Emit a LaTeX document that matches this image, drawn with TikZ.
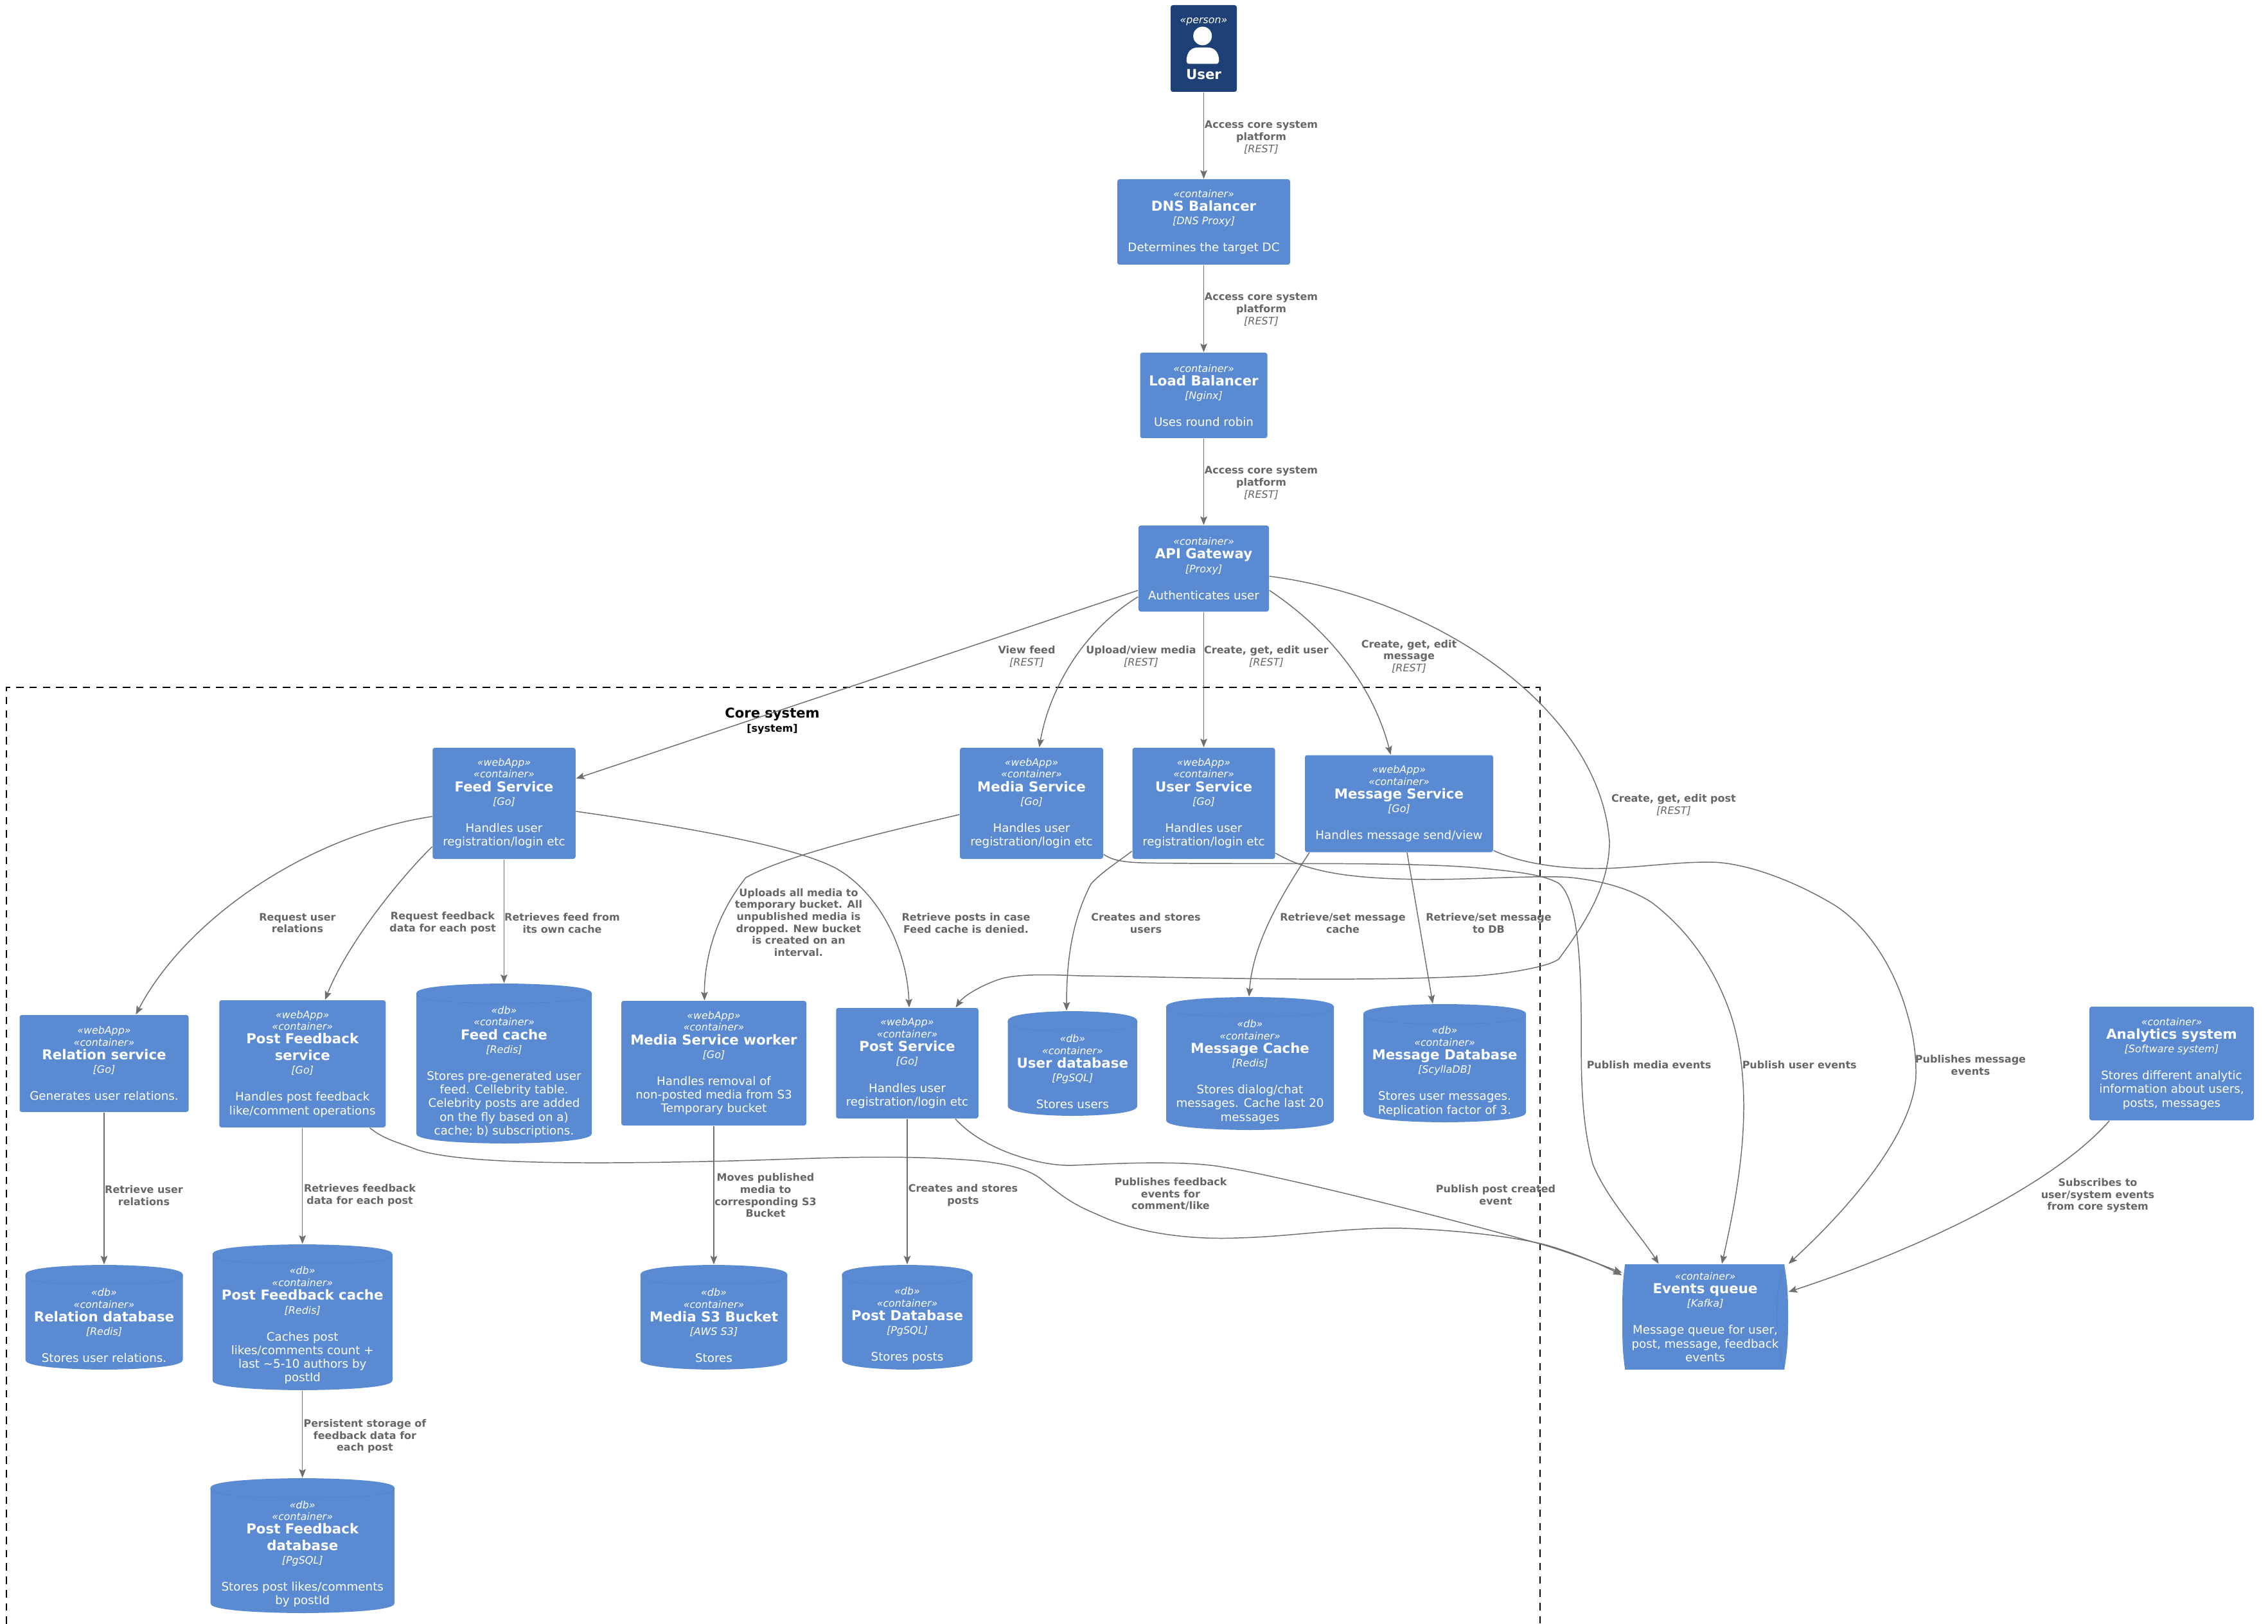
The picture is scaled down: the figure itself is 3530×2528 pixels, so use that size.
\documentclass[tikz,border=0pt]{standalone}
\usepackage{xcolor}
\usepackage{fontspec}
\setmainfont{DejaVu Sans}
\usepackage{tikz}
\usetikzlibrary{arrows, arrows.meta}
\definecolor{boxblue}{HTML}{5A8AD1}
\definecolor{boxline}{HTML}{5483CB}
\definecolor{personblue}{HTML}{1F4077}
\definecolor{relgray}{HTML}{6E6E6E}
\definecolor{labgray}{HTML}{666666}
\newcommand{\tagline}[1]{{\fontsize{4.5}{5}\selectfont\itshape «#1»}}
\newcommand{\titleline}[1]{{\fontsize{6.06}{7}\selectfont\bfseries #1}}
\newcommand{\techline}[1]{{\fontsize{4.55}{5}\selectfont\itshape [#1]}}
\newcommand{\reltech}[1]{{\mdseries\itshape [#1]}}
\newcommand{\dbtop}{\rule{0pt}{10.7pt}}
\tikzset{wh/.style 2 args={minimum width=#1*0.01cm, minimum height=#2*0.01cm}}

\begin{document}
\begin{tikzpicture}[x=0.01cm,y=0.01cm]
\tikzstyle{boxtext}=[inner sep=0pt, text=white, align=center, font=\fontsize{5.2}{6.05}\selectfont]
\tikzstyle{svc}=[boxtext, rectangle, fill=boxblue, rounded corners=1pt]
\tikzstyle{person}=[boxtext, rectangle, fill=personblue, rounded corners=1pt]
\tikzstyle{dbbox}=[boxtext, rectangle, path picture={
   \fill[boxblue] ([yshift=-4.27pt]path picture bounding box.north west)
      .. controls +(0,15) and +(0,0) .. (path picture bounding box.north)
      .. controls +(0,0) and +(0,15) .. ([yshift=-4.27pt]path picture bounding box.north east)
      -- ([yshift=4.27pt]path picture bounding box.south east)
      .. controls +(0,-15) and +(0,0) .. (path picture bounding box.south)
      .. controls +(0,0) and +(0,-15) .. ([yshift=4.27pt]path picture bounding box.south west) -- cycle;
   \draw[boxline, line width=.25pt] ([yshift=-4.27pt]path picture bounding box.north west)
      .. controls +(0,-15) and +(-60,0) .. ([yshift=-8.54pt]path picture bounding box.north)
      .. controls +(60,0) and +(0,-15) .. ([yshift=-4.27pt]path picture bounding box.north east);}]
\tikzstyle{queuebox}=[boxtext, rectangle, path picture={
   \fill[boxblue] ([xshift=1.2pt]path picture bounding box.north west)
      -- ([xshift=-1.7pt]path picture bounding box.north east)
      .. controls +(5,-30) and +(0,40) .. (path picture bounding box.east)
      .. controls +(0,-40) and +(5,30) .. ([xshift=-1.7pt]path picture bounding box.south east)
      -- ([xshift=1.2pt]path picture bounding box.south west)
      .. controls +(-4,30) and +(0,-40) .. (path picture bounding box.west)
      .. controls +(0,40) and +(-4,-30) .. cycle;
   \draw[boxline, line width=.25pt] ([xshift=-1.7pt]path picture bounding box.north east)
      .. controls +(-8,-30) and +(0,40) .. ([xshift=-5pt]path picture bounding box.east)
      .. controls +(0,-40) and +(-8,30) .. ([xshift=-1.7pt]path picture bounding box.south east);}]
\tikzstyle{lab}=[inner sep=0pt, yshift=-.5pt, text=labgray, align=center, font=\fontsize{4.55}{5.3}\selectfont\bfseries]
\tikzstyle{rel}=[draw=relgray, line width=.42pt, -{Stealth[length=3.8pt,width=3pt,inset=.7pt]}]

\useasboundingbox (0,0) rectangle (3530,-2528);

\coordinate (bl) at (10,-2528);
\coordinate (tl) at (10,-1070);
\coordinate (tr) at (2397,-1070);
\coordinate (br) at (2397,-2528);
\draw[line width=.45pt, dash pattern=on 3.3pt off 2.6pt] (bl)--(tl)--(tr)--(br);
\node[inner sep=0pt, align=center, font=\fontsize{4.55}{6.3}\selectfont\bfseries] (coretitle) at (1202,-1122) {{\fontsize{6}{7}\selectfont Core system}\\{[system]}};

\node[person, wh={103}{135}] (user) at (1873.5,-75.5) {\tagline{person}\\[18.8pt]\titleline{User}};
\fill[white] (1871.7,-56) circle [radius=14.5];
\fill[white] (1846.7,-95) .. controls (1846.7,-80) and (1855,-74) .. (1864,-74) -- (1880,-74) .. controls (1889,-74) and (1897.3,-80) .. (1897.3,-95) .. controls (1897.3,-98) and (1895,-99.5) .. (1893,-99.5) -- (1851,-99.5) .. controls (1848.5,-99.5) and (1846.7,-98) .. cycle;

\node[svc, wh={269}{133}] (dns) at (1873.5,-345.5) {\tagline{container}\\\titleline{DNS Balancer}\\\techline{DNS Proxy}\\[5.9pt]Determines the target DC};
\node[svc, wh={198}{133}] (lb) at (1873.5,-615.5) {\tagline{container}\\\titleline{Load Balancer}\\\techline{Nginx}\\[5.9pt]Uses round robin};
\node[svc, wh={203}{134}] (api) at (1873.5,-885) {\tagline{container}\\\titleline{API Gateway}\\\techline{Proxy}\\[5.9pt]Authenticates user};

\node[svc, wh={222.5}{173}] (feed) at (784.5,-1250.5) {\tagline{webApp}\\[-.8pt]\tagline{container}\\\titleline{Feed Service}\\\techline{Go}\\[5.9pt]Handles user\\registration/login etc};
\node[svc, wh={223}{173}] (media) at (1605.5,-1250.5) {\tagline{webApp}\\[-.8pt]\tagline{container}\\\titleline{Media Service}\\\techline{Go}\\[5.9pt]Handles user\\registration/login etc};
\node[svc, wh={222}{173}] (usersvc) at (1873.5,-1250.5) {\tagline{webApp}\\[-.8pt]\tagline{container}\\\titleline{User Service}\\\techline{Go}\\[5.9pt]Handles user\\registration/login etc};
\node[svc, wh={293}{151}] (message) at (2177.5,-1251) {\tagline{webApp}\\[-.8pt]\tagline{container}\\\titleline{Message Service}\\\techline{Go}\\[5.9pt]Handles message send/view};

\node[svc, wh={263}{151}] (relation) at (162,-1655.5) {\tagline{webApp}\\[-.8pt]\tagline{container}\\\titleline{Relation service}\\\techline{Go}\\[5.9pt]Generates user relations.};
\node[svc, wh={259}{198}] (pfsvc) at (470.75,-1656) {\tagline{webApp}\\[-.8pt]\tagline{container}\\\titleline{Post Feedback}\\[1.2pt]\titleline{service}\\\techline{Go}\\[5.9pt]Handles post feedback\\like/comment operations};
\node[dbbox, wh={273}{249}] (feedcache) at (784.5,-1655.5) {\dbtop\tagline{db}\\[-.8pt]\tagline{container}\\\titleline{Feed cache}\\\techline{Redis}\\[5.9pt]Stores pre-generated user\\feed. Cellebrity table.\\Celebrity posts are added\\on the fly based on a)\\cache; b) subscriptions.};
\node[svc, wh={288}{194}] (worker) at (1111,-1655) {\tagline{webApp}\\[-.8pt]\tagline{container}\\\titleline{Media Service worker}\\\techline{Go}\\[5.9pt]Handles removal of\\non-posted media from S3\\Temporary bucket};
\node[svc, wh={221.5}{172}] (post) at (1412,-1655) {\tagline{webApp}\\[-.8pt]\tagline{container}\\\titleline{Post Service}\\\techline{Go}\\[5.9pt]Handles user\\registration/login etc};
\node[dbbox, wh={201.4}{163}] (userdb) at (1669.3,-1655.5) {\dbtop\tagline{db}\\[-.8pt]\tagline{container}\\\titleline{User database}\\\techline{PgSQL}\\[5.9pt]Stores users};
\node[dbbox, wh={261}{207}] (msgcache) at (1945.5,-1655.5) {\dbtop\tagline{db}\\[-.8pt]\tagline{container}\\\titleline{Message Cache}\\\techline{Redis}\\[5.9pt]Stores dialog/chat\\messages. Cache last 20\\messages};
\node[dbbox, wh={253}{184}] (msgdb) at (2248.5,-1655) {\dbtop\tagline{db}\\[-.8pt]\tagline{container}\\\titleline{Message Database}\\\techline{ScyllaDB}\\[5.9pt]Stores user messages.\\Replication factor of 3.};
\node[svc, wh={256}{177}] (analytics) at (3380,-1655.5) {\tagline{container}\\\titleline{Analytics system}\\\techline{Software system}\\[5.9pt]Stores different analytic\\information about users,\\posts, messages};

\node[dbbox, wh={245}{163}] (reldb) at (162,-2050.5) {\dbtop\tagline{db}\\[-.8pt]\tagline{container}\\\titleline{Relation database}\\\techline{Redis}\\[5.9pt]Stores user relations.};
\node[dbbox, wh={280}{227}] (pfcache) at (470.75,-2050.5) {\dbtop\tagline{db}\\[-.8pt]\tagline{container}\\\titleline{Post Feedback cache}\\\techline{Redis}\\[5.9pt]Caches post\\likes/comments count +\\last \textasciitilde{}5-10 authors by\\postId};
\node[dbbox, wh={286.5}{210}] (pfdb) at (470.75,-2406) {\dbtop\tagline{db}\\[-.8pt]\tagline{container}\\\titleline{Post Feedback}\\[1.2pt]\titleline{database}\\\techline{PgSQL}\\[5.9pt]Stores post likes/comments\\by postId};
\node[dbbox, wh={228.5}{163}] (s3) at (1111,-2050.5) {\dbtop\tagline{db}\\[-.8pt]\tagline{container}\\\titleline{Media S3 Bucket}\\\techline{AWS S3}\\[5.9pt]Stores};
\node[dbbox, wh={203}{163}] (postdb) at (1412,-2050.5) {\dbtop\tagline{db}\\[-.8pt]\tagline{container}\\\titleline{Post Database}\\\techline{PgSQL}\\[5.9pt]Stores posts};
\node[queuebox, wh={258}{164}] (events) at (2654,-2050) {\tagline{container}\\\titleline{Events queue}\\\techline{Kafka}\\[5.9pt]Message queue for user,\\post, message, feedback\\events};

\foreach \a/\b in {user/dns, dns/lb, lb/api, api/usersvc, feed/feedcache, relation/reldb, pfsvc/pfcache, pfcache/pfdb, worker/s3, post/postdb}
   \draw[rel] (\a)--(\b);

\draw[rel] (api.west |- 0,-919)--(feed.east |- 0,-1212);
\draw[rel] (api.west |- 0,-929) .. controls (1680,-985) and (1632,-1080) .. (media.north -| 1617.5,0);
\draw[rel] (api.east |- 0,-919) .. controls (2060,-975) and (2135,-1060) .. (message.north -| 2164.6,0);
\draw[rel] (api.east |- 0,-897) .. controls (2230,-930) and (2490,-1100) .. (2505,-1310) .. controls (2505,-1380) and (2465,-1440) .. (2426,-1493) .. controls (2410,-1505) and (2350,-1515) .. (2300,-1519) .. controls (2100,-1530) and (1800,-1520) .. (1682,-1519) .. controls (1630,-1517) and (1590,-1516) .. (1560,-1523) .. controls (1530,-1532) and (1500,-1550) .. (post.north -| 1487.5,0);

\draw[rel] (feed.west |- 0,-1271) .. controls (480,-1300) and (290,-1430) .. (relation.north -| 211.4,0);
\draw[rel] (feed.west |- 0,-1318) .. controls (620,-1370) and (540,-1470) .. (pfsvc.north -| 506,0);
\draw[rel] (feed.east |- 0,-1263) .. controls (1050,-1285) and (1230,-1315) .. (1300,-1351) .. controls (1370,-1390) and (1412,-1480) .. (post.north -| 1415,0);

\draw[rel] (media.west |- 0,-1268) .. controls (1400,-1290) and (1230,-1328) .. (1161,-1366) .. controls (1110,-1430) and (1096,-1500) .. (worker.north -| 1096.5,0);
\draw[rel] (media.east |- 0,-1330) .. controls (1740,-1345) and (1770,-1343) .. (1850,-1344) .. controls (2000,-1345) and (2200,-1342) .. (2300,-1351) .. controls (2350,-1356) and (2400,-1360) .. (2426,-1375) .. controls (2450,-1395) and (2460,-1460) .. (2461,-1580) .. controls (2462,-1640) and (2457,-1730) .. (2479,-1812) .. controls (2500,-1865) and (2555,-1925) .. (events.north -| 2581.6,0);

\draw[rel] (usersvc.west |- 0,-1325) .. controls (1735,-1345) and (1712,-1360) .. (1698,-1376) .. controls (1670,-1430) and (1660,-1490) .. (userdb.north -| 1660,0);
\draw[rel] (usersvc.east |- 0,-1328) .. controls (2040,-1360) and (2110,-1368) .. (2220,-1369) .. controls (2300,-1369) and (2400,-1362) .. (2445,-1366) .. controls (2500,-1372) and (2540,-1385) .. (2571,-1405) .. controls (2630,-1450) and (2670,-1510) .. (2694,-1580) .. controls (2710,-1630) and (2714,-1680) .. (2714,-1723) .. controls (2714,-1810) and (2695,-1900) .. (events.north -| 2680,0);

\draw[rel] (message.south -| 2038,0) .. controls (1990,-1400) and (1950,-1470) .. (msgcache.north -| 1944,0);
\draw[rel] (message.south -| 2190,0)--(msgdb.north -| 2230,0);
\draw[rel] (message.east |- 0,-1324) .. controls (2370,-1345) and (2430,-1352) .. (2484,-1352) .. controls (2540,-1352) and (2600,-1342) .. (2660,-1342) .. controls (2720,-1342) and (2800,-1375) .. (2857,-1410) .. controls (2910,-1445) and (2950,-1510) .. (2969,-1580) .. controls (2978,-1610) and (2982,-1640) .. (2982,-1670) .. controls (2982,-1750) and (2900,-1860) .. (events.north east);

\draw[rel] (post.south -| 1487,0) .. controls (1530,-1790) and (1620,-1816) .. (1670,-1814) .. controls (1720,-1812) and (1840,-1805) .. (1905,-1817) .. controls (1990,-1830) and (2250,-1895) .. (2403,-1938) .. controls (2450,-1952) and (2495,-1970) .. (events.west |- 0,-1981);
\draw[rel] (pfsvc.south -| 575.5,0) .. controls (600,-1775) and (620,-1778) .. (650,-1790) .. controls (720,-1812) and (900,-1812) .. (1100,-1808) .. controls (1250,-1805) and (1380,-1795) .. (1523,-1807) .. controls (1570,-1812) and (1600,-1820) .. (1620,-1835) .. controls (1650,-1860) and (1670,-1875) .. (1707,-1890) .. controls (1770,-1920) and (1850,-1930) .. (1927,-1927) .. controls (2010,-1925) and (2100,-1910) .. (2183,-1912) .. controls (2250,-1914) and (2340,-1922) .. (2403,-1937) .. controls (2450,-1950) and (2495,-1970) .. (events.west |- 0,-1985);
\draw[rel] (analytics.south -| 3283,0) .. controls (3200,-1840) and (3000,-1940) .. (events.east |- 0,-2011);

\node[lab] (lab1) at (1963,-212) {Access core system\\platform\\\reltech{REST}};
\node[lab] (lab2) at (1963,-480) {Access core system\\platform\\\reltech{REST}};
\node[lab] (lab3) at (1963,-750) {Access core system\\platform\\\reltech{REST}};
\node[lab] (lab4) at (1598,-1020) {View feed\\\reltech{REST}};
\node[lab] (lab5) at (1776,-1020) {Upload/view media\\\reltech{REST}};
\node[lab] (lab6) at (1971,-1020) {Create, get, edit user\\\reltech{REST}};
\node[lab] (lab7) at (2193,-1020) {Create, get, edit\\message\\\reltech{REST}};
\node[lab] (lab8) at (2605,-1251) {Create, get, edit post\\\reltech{REST}};
\node[lab] (lab9) at (463,-1435) {Request user\\relations};
\node[lab] (lab10) at (689,-1435) {Request feedback\\data for each post};
\node[lab] (lab11) at (875,-1435) {Retrieves feed from\\its own cache};
\node[lab] (lab12) at (1243,-1434) {Uploads all media to\\temporary bucket. All\\unpublished media is\\dropped. New bucket\\is created on an\\interval.};
\node[lab] (lab13) at (1503.5,-1435) {Retrieve posts in case\\Feed cache is denied.};
\node[lab] (lab14) at (1783.5,-1435) {Creates and stores\\users};
\node[lab] (lab15) at (2090,-1435) {Retrieve/set message\\cache};
\node[lab] (lab16) at (2317,-1435) {Retrieve/set message\\to DB};
\node[lab] (lab17) at (2566.5,-1656) {Publish media events};
\node[lab] (lab18) at (2800.7,-1656) {Publish user events};
\node[lab] (lab19) at (3067,-1656) {Publishes message\\events};
\node[lab] (lab20) at (3265,-1859) {Subscribes to\\user/system events\\from core system};
\node[lab] (lab21) at (224,-1859) {Retrieve user\\relations};
\node[lab] (lab22) at (560,-1859) {Retrieves feedback\\data for each post};
\node[lab] (lab23) at (1191.5,-1859) {Moves published\\media to\\corresponding S3\\Bucket};
\node[lab] (lab24) at (568,-2234) {Persistent storage of\\feedback data for\\each post};
\node[lab] (lab25) at (1499,-1859) {Creates and stores\\posts};
\node[lab] (lab26) at (1822,-1857) {Publishes feedback\\events for\\comment/like};
\node[lab] (lab27) at (2328,-1858) {Publish post created\\event};
\end{tikzpicture}
\end{document}
